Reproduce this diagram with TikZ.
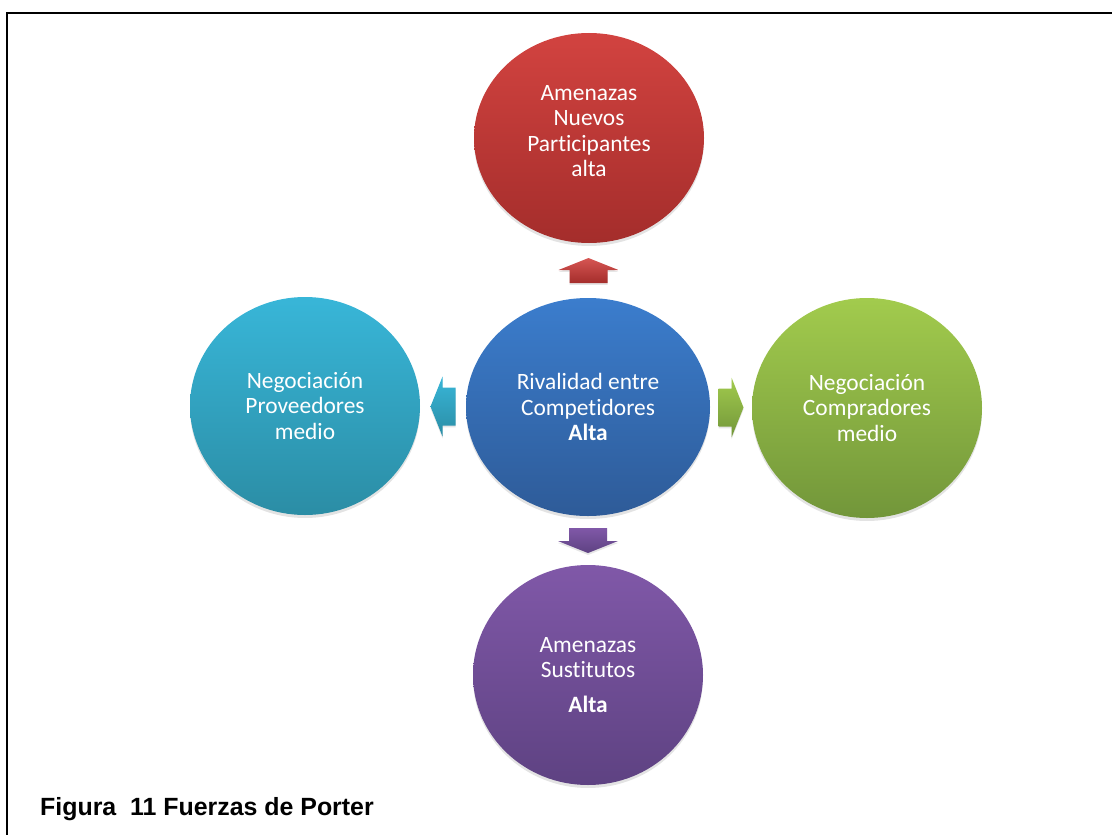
\documentclass[tikz,border=0pt]{standalone}
\usepackage{fontspec}
\setmainfont{Carlito}[Ligatures=NoCommon]
\newfontfamily\capfont{Liberation Sans}
\usetikzlibrary{shapes.geometric,shadows,calc}
\definecolor{frcred}{HTML}{D24340}
\definecolor{frcreddk}{HTML}{A42D2B}
\definecolor{frcblue}{HTML}{3B7DCD}
\definecolor{frcbluedk}{HTML}{2E5B98}
\definecolor{frccyan}{HTML}{38B6D8}
\definecolor{frccyandk}{HTML}{2B8DA5}
\definecolor{frcgreen}{HTML}{A2CB4D}
\definecolor{frcgreendk}{HTML}{72963A}
\definecolor{frcpurple}{HTML}{8058A8}
\definecolor{frcpurpledk}{HTML}{5E4282}
\tikzset{
  force/.style={ellipse,inner sep=0pt,minimum width=230bp,minimum height=214bp,align=center,
    text=white,font=\fontsize{23.5}{25.5}\selectfont,
    drop shadow={opacity=.22,shadow xshift=0pt,shadow yshift=-3pt}},
  hub/.style={force,minimum width=244bp,minimum height=218bp},
  pics/blockarrow/.style={code={
    \shade[#1,drop shadow={opacity=.2,shadow xshift=0pt,shadow yshift=-2pt}]
      (-12.5,-19) -- (0.5,-19) -- (0.5,-30) -- (12.5,0) -- (0.5,30) -- (0.5,19) -- (-12.5,19) -- cycle;}},
}
\begin{document}
\begin{tikzpicture}[x=1bp,y=-1bp]
  \useasboundingbox (0,0) rectangle (1112,835);
  \draw[line width=2bp] (7,835) -- (7,13) -- (1112,13);
  % the five forces
  \node[hub,top color=frcblue,bottom color=frcbluedk] (rival) at (588,407)
    {Rivalidad entre\\Competidores\\\textbf{Alta}};
  \node[force,minimum height=210bp,top color=frcred,bottom color=frcreddk] (nuevos) at (589,138)
    {Amenazas\\Nuevos\\Participantes\\alta\\[-11.5bp]};
  \node[force,minimum height=218bp,top color=frccyan,bottom color=frccyandk] (proveed) at (305,406)
    {Negociación\\Proveedores\\medio};
  \node[force,minimum height=220bp,top color=frcgreen,bottom color=frcgreendk] (comprad) at (867,408)
    {Negociación\\Compradores\\medio};
  \node[force,minimum height=220bp,top color=frcpurple,bottom color=frcpurpledk] (sustit) at (588,675)
    {Amenazas\\Sustitutos\\[10bp]\textbf{Alta}};
  % block arrows between the hub and each force
  \pic[rotate=90] at ($(rival.north)!0.5!(nuevos.south)$)
    {blockarrow={top color=frcred!90!white,bottom color=frcreddk}};
  \pic[rotate=180] at ($(rival.west)!0.5!(proveed.east)$)
    {blockarrow={top color=frccyan,bottom color=frccyandk}};
  \pic at ($(rival.east)!0.5!(comprad.west)$)
    {blockarrow={top color=frcgreen,bottom color=frcgreendk}};
  \pic[rotate=-90] at ($(rival.south)!0.5!(sustit.north)$)
    {blockarrow={top color=frcpurple,bottom color=frcpurpledk}};
  \node[anchor=base west,inner sep=0pt,font=\capfont\bfseries\fontsize{25}{29}\selectfont] (caption) at (40,815)
    {Figura\ \ 11 Fuerzas de Porter};
\end{tikzpicture}
\end{document}
